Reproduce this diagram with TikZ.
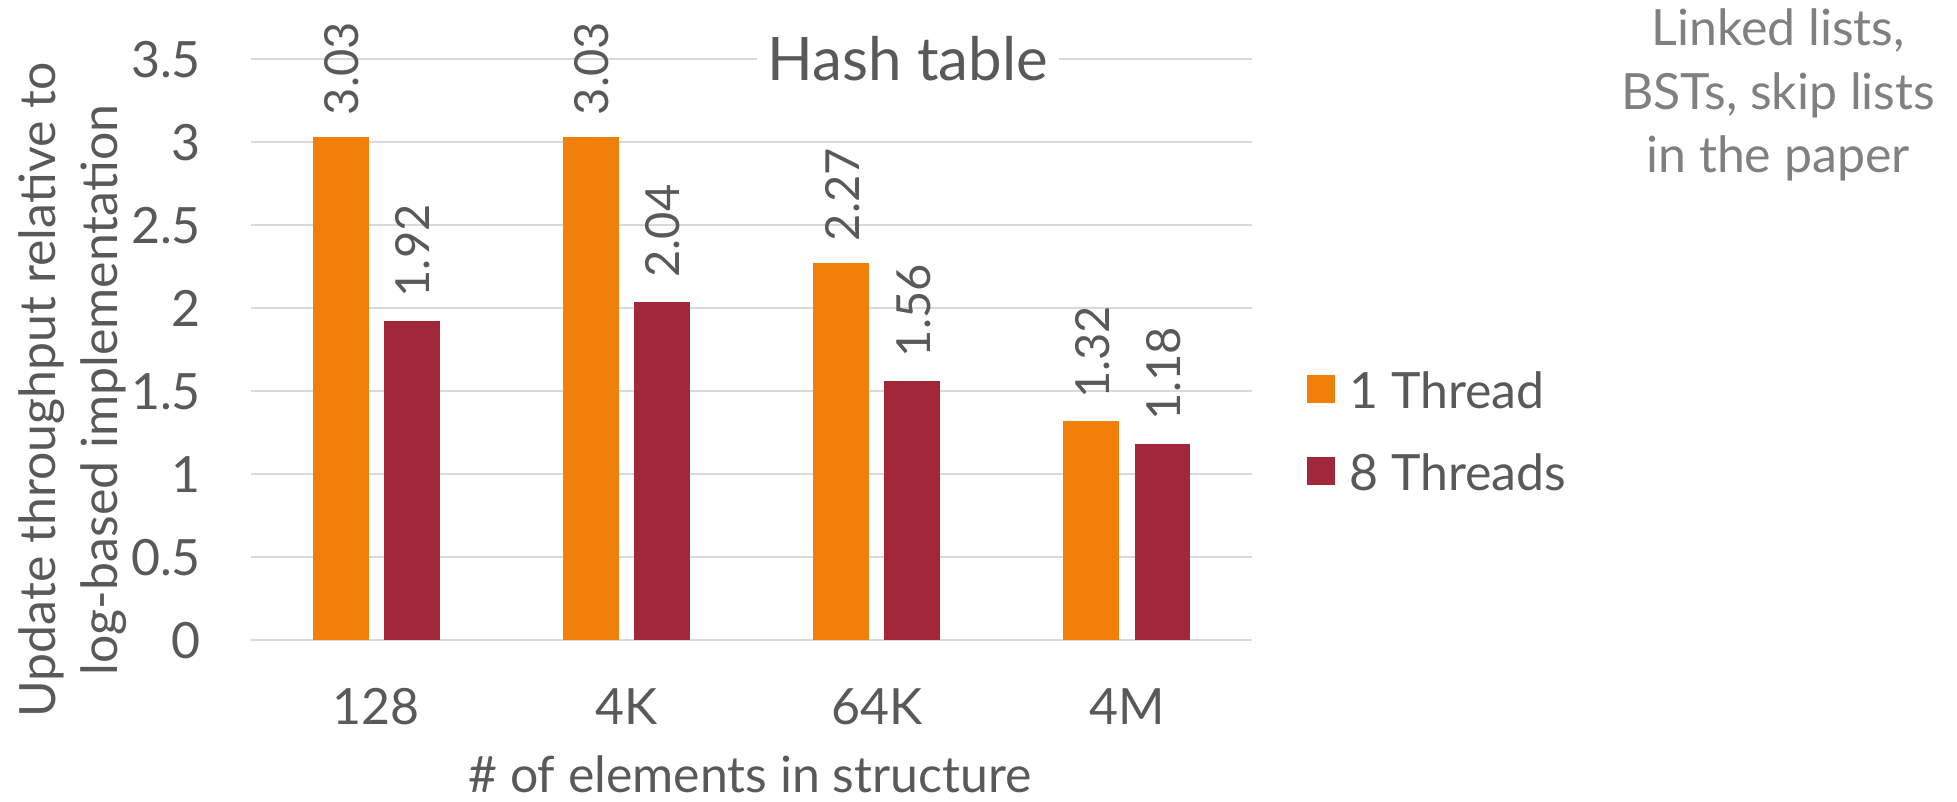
\documentclass[tikz,border=0pt]{standalone}
\usepackage{fontspec}
\setmainfont{Lato}
\definecolor{txt}{HTML}{595959}
\definecolor{notegray}{HTML}{808080}
\definecolor{gridgray}{HTML}{D9D9D9}
\definecolor{onecol}{HTML}{F0800A}
\definecolor{eightcol}{HTML}{A22738}
\begin{document}
\begin{tikzpicture}[x=1pt,y=-1pt,
  lab/.style={text=txt,inner sep=0,font=\fontsize{50}{60}\selectfont},
  numlab/.style={text=txt,inner sep=0,font=\fontsize{47}{60}\selectfont},
  gridline/.style={draw=gridgray,line width=1.8},
  titletext/.style={text=txt,font=\fontsize{60}{70}\selectfont,fill=white,inner xsep=11,inner ysep=4},
  axtitle/.style={text=txt,inner sep=0,font=\fontsize{50}{62}\selectfont},
  notetext/.style={text=notegray,inner sep=0,font=\fontsize{50}{63.5}\selectfont,align=center},
  legbox/.style={inner sep=0,minimum width=28,minimum height=28}]
\useasboundingbox (0,0) rectangle (1957,801);
% gridlines
\foreach \v in {0,0.5,...,3.5}
  \draw[gridline] (251,{640-165.9*\v}) -- (1252,{640-165.9*\v});
% tick labels
\foreach \v/\t [count=\k] in {0/0,0.5/0.5,1/1,1.5/1.5,2/2,2.5/2.5,3/3,3.5/3.5}
  \node[lab,anchor=base east] (ytick\k) at (201,{640-165.9*\v+18.5}) {\t};
% bars and data labels
\foreach \c/\a/\b/\cat [count=\i] in {376.1/3.03/1.92/128, 626.4/3.03/2.04/4K, 876.6/2.27/1.56/64K, 1126.9/1.32/1.18/4M}{
  \fill[onecol] (\c-63.6,640) rectangle (\c-7.6,{640-165.9*\a});
  \fill[eightcol] (\c+7.6,640) rectangle (\c+63.4,{640-165.9*\b});
  \node[numlab,rotate=90,anchor=base west] (la\i) at (\c-35.6+18,{640-165.9*\a-22}) {\a};
  \node[numlab,rotate=90,anchor=base west] (lb\i) at (\c+35.5+18,{640-165.9*\b-24}) {\b};
  \node[lab,anchor=base] (cat\i) at (\c,724) {\cat};
}
% title
\node[titletext,anchor=base] (title) at (908,80) {Hash table};
% axis titles
\node[lab,anchor=base] (xtitle) at (750,792) {\# of elements in structure};
\node[axtitle,rotate=90,anchor=base] (ytitle1) at (55,390) {Update throughput relative to};
\node[axtitle,rotate=90,anchor=base] (ytitle2) at (117,390) {log-based implementation};
% legend
\node[legbox,fill=onecol,anchor=north west] (leg1) at (1307,375) {};
\node[legbox,fill=eightcol,anchor=north west] (leg2) at (1307,457) {};
\node[lab,anchor=base west] (legt1) at (1349,408) {1 Thread};
\node[lab,anchor=base west] (legt2) at (1349,490) {8 Threads};
% note
\node[notetext,anchor=base] (note1) at (1778,45.6) {Linked lists,};
\node[notetext,anchor=base] (note2) at (1778,109) {BSTs, skip lists};
\node[notetext,anchor=base] (note3) at (1778,172) {in the paper};
\end{tikzpicture}
\end{document}
